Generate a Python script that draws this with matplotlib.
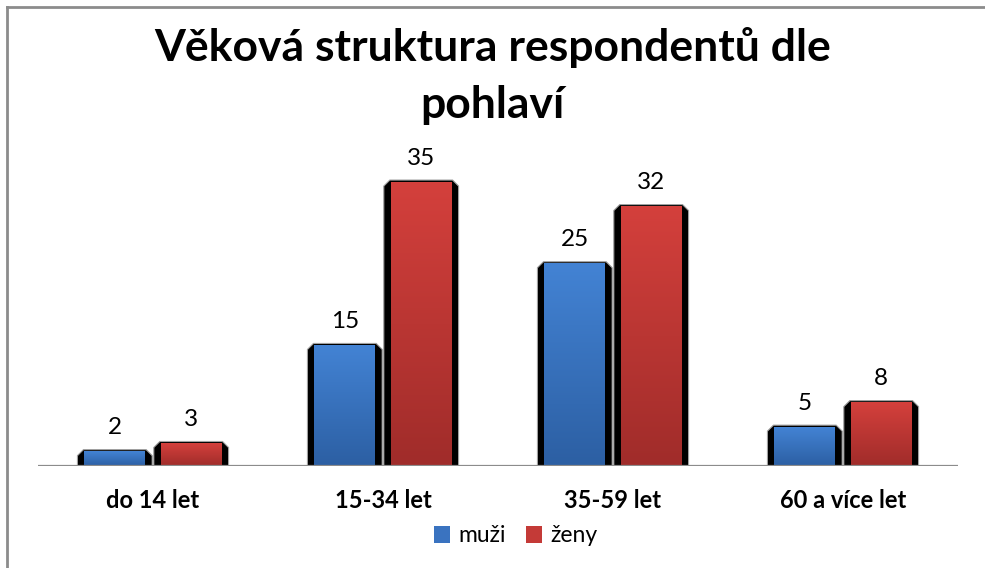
import numpy as np
import matplotlib
matplotlib.use("Agg")
import matplotlib.pyplot as plt
from matplotlib.patches import Polygon, Rectangle
from matplotlib.colors import LinearSegmentedColormap
from matplotlib.lines import Line2D

plt.rcParams['font.family'] = ['Lato', 'DejaVu Sans']

# ---- data ----
categories = ["do 14 let", "15-34 let", "35-59 let", "60 a více let"]
series_names = ["muži", "ženy"]
muzi = [2, 15, 25, 5]
zeny = [3, 35, 32, 8]
title = "Věková struktura respondentů dle\npohlaví"

# ---- style ----
W, H, DPI = 985, 568, 100
colors_top = ["#4383D4", "#D4403C"]
colors_bot = ["#2C5FA3", "#A02C2A"]
legend_colors = ["#3A73C0", "#C43A37"]

fig = plt.figure(figsize=(W / DPI, H / DPI), dpi=DPI)
fig.patch.set_facecolor("white")

# frame lines (top & left visible)
fig.add_artist(Line2D([7 / W, 1], [1 - 7 / H, 1 - 7 / H], color="#8c8c8c", lw=2.0))
fig.add_artist(Line2D([7 / W, 7 / W], [0, 1 - 7 / H], color="#8c8c8c", lw=2.0))

ax_left, ax_right = 38, 958
ax_base = 466
ymax = 40
px_per_unit = 8.17
ax_top = ax_base - ymax * px_per_unit
ax = fig.add_axes([ax_left / W, (H - ax_base) / H, (ax_right - ax_left) / W, (ax_base - ax_top) / H])
ax.set_xlim(-0.5, len(categories) - 0.5)
ax.set_ylim(0, ymax)
for s in ax.spines.values():
    s.set_visible(False)
ax.set_yticks([])
ax.set_xticks([])
ax.patch.set_alpha(0)

x = np.arange(len(categories))
bw = 0.325
offsets = [-0.166, 0.166]
xppu = (ax_right - ax_left) / len(categories)  # px per x unit
side = 7 / xppu
topin = 2.2 / px_per_unit
bev_x = 6 / xppu
bev_y = 6 / px_per_unit

for si, vals in enumerate([muzi, zeny]):
    bars = ax.bar(x + offsets[si], vals, width=bw, color="none", edgecolor="none")
    cmap = LinearSegmentedColormap.from_list("g", [colors_bot[si], colors_top[si]])
    for b, v in zip(bars, vals):
        x0, w, h = b.get_x(), b.get_width(), b.get_height()
        bx = min(bev_y, h * 0.5)
        poly = Polygon([[x0, 0], [x0, h - bx], [x0 + bev_x, h], [x0 + w - bev_x, h],
                        [x0 + w, h - bx], [x0 + w, 0]], closed=True,
                       facecolor="black", edgecolor="#a0a0a0", lw=0.8, zorder=2)
        ax.add_patch(poly)
        grad = np.linspace(0, 1, 256).reshape(-1, 1)
        ax.imshow(grad, cmap=cmap, origin="lower", aspect="auto",
                  extent=[x0 + side, x0 + w - side, 0, h - topin], zorder=3,
                  interpolation="bilinear")
        ax.text(x0 + w / 2, h + 22 / px_per_unit, f"{v}", ha="center", va="center",
                fontsize=17.5, color="black", zorder=4)
ax.set_xlim(-0.5, len(categories) - 0.5)
ax.set_ylim(0, ymax)

# axis line
ax.axhline(0, color="#8c8c8c", lw=1.6, zorder=5)

# category labels
for xi, c in zip(x, categories):
    ax.text(xi, -35 / px_per_unit, c, ha="center", va="center", fontsize=17,
            fontweight="bold", color="black")

# title
fig.text(0.5, 1 - 76 / H, title, ha="center", va="center", fontsize=32,
         fontweight="bold", linespacing=1.5, color="black")

# legend
handles = [Rectangle((0, 0), 1, 1, facecolor=legend_colors[i], edgecolor="none") for i in range(2)]
fig.legend(handles, series_names, loc="center", bbox_to_anchor=(516 / W, 1 - 536 / H),
           ncol=2, frameon=False, fontsize=16.5, handlelength=0.7, handleheight=0.7,
           handletextpad=0.35, columnspacing=0.9, borderpad=0)

fig.savefig("out.png", dpi=DPI, facecolor="white")
